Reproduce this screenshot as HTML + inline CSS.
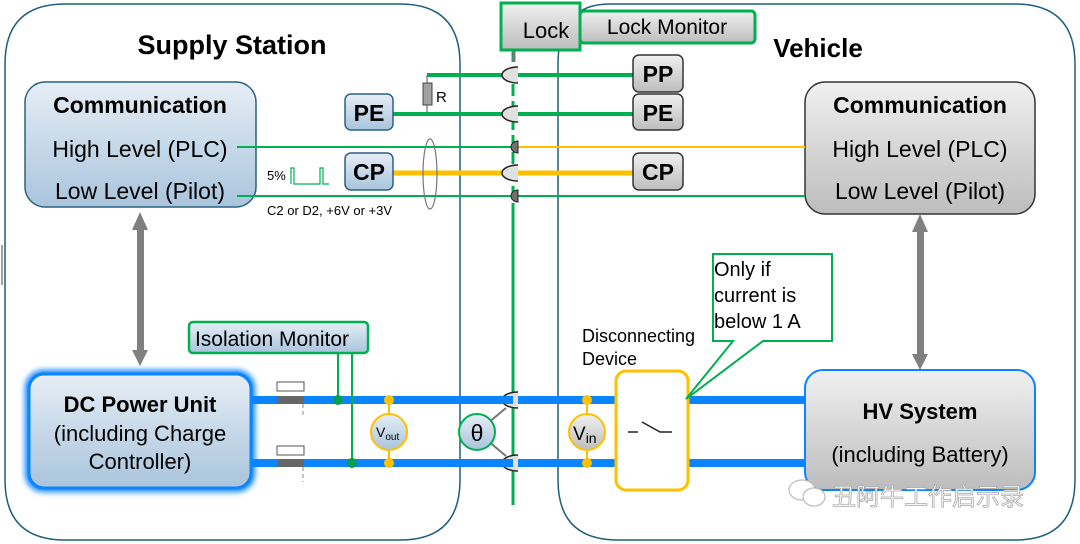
<!DOCTYPE html>
<html><head><meta charset="utf-8"><style>
html,body{margin:0;padding:0;background:#fff;width:1080px;height:544px;overflow:hidden}
svg{display:block}
text{font-family:"Liberation Sans","Noto Sans CJK SC",sans-serif}
</style></head><body>
<svg width="1080" height="544" viewBox="0 0 1080 544" xmlns="http://www.w3.org/2000/svg">
<defs>
<linearGradient id="gb" x1="0" y1="0" x2="0" y2="1"><stop offset="0" stop-color="#e6eef6"/><stop offset="1" stop-color="#a9c4dc"/></linearGradient>
<linearGradient id="gg" x1="0" y1="0" x2="0" y2="1"><stop offset="0" stop-color="#f0f0f0"/><stop offset="1" stop-color="#bdbdbd"/></linearGradient>
<filter id="glow" x="-20%" y="-20%" width="140%" height="140%"><feGaussianBlur stdDeviation="3"/></filter>
</defs>
<path d="M65 4 H400 Q460 4 460 64 V480 Q460 540 400 540 H65 Q5 540 5 480 V64 Q5 4 65 4Z" fill="none" stroke="#1f5f7f" stroke-width="1.5"/>
<path d="M610 4 H1015 Q1075 4 1075 64 V480 Q1075 540 1015 540 H618 Q558 540 558 480 V64 Q558 4 610 4Z" fill="none" stroke="#1f5f7f" stroke-width="1.5"/>
<line x1="2" y1="245" x2="2" y2="285" stroke="#444" stroke-width="1"/>
<text x="232" y="54" font-size="27" font-weight="bold" text-anchor="middle">Supply Station</text>
<text x="818" y="57" font-size="26" font-weight="bold" text-anchor="middle">Vehicle</text>

<line x1="513" y1="50" x2="513" y2="210" stroke="#00b050" stroke-width="3" stroke-dasharray="12,5"/>
<line x1="513" y1="210" x2="513" y2="505" stroke="#00b050" stroke-width="3"/>
<line x1="514" y1="50" x2="514" y2="62" stroke="#777" stroke-width="3"/>

<rect x="501" y="3" width="79" height="47" fill="url(#gg)" stroke="#00b050" stroke-width="3"/>
<text x="546" y="38" font-size="22" text-anchor="middle">Lock</text>
<rect x="580" y="11" width="175" height="32" rx="4" fill="url(#gg)" stroke="#00b050" stroke-width="3"/>
<text x="667" y="34" font-size="21" text-anchor="middle">Lock Monitor</text>

<rect x="25" y="82" width="231" height="125" rx="20" fill="url(#gb)" stroke="#2a6282" stroke-width="1.5"/>
<text x="140" y="113" font-size="23" font-weight="bold" text-anchor="middle">Communication</text>
<text x="140" y="157" font-size="23" text-anchor="middle">High Level (PLC)</text>
<text x="140" y="199" font-size="23" text-anchor="middle">Low Level (Pilot)</text>
<rect x="805" y="82" width="230" height="132" rx="20" fill="url(#gg)" stroke="#333" stroke-width="1.5"/>
<text x="920" y="113" font-size="23" font-weight="bold" text-anchor="middle">Communication</text>
<text x="920" y="157" font-size="23" text-anchor="middle">High Level (PLC)</text>
<text x="920" y="199" font-size="23" text-anchor="middle">Low Level (Pilot)</text>

<line x1="427" y1="75" x2="633" y2="75" stroke="#00b050" stroke-width="4"/>
<line x1="393" y1="114" x2="633" y2="114" stroke="#00b050" stroke-width="4"/>
<line x1="237" y1="147" x2="513" y2="147" stroke="#00b050" stroke-width="2"/>
<line x1="517" y1="147" x2="805" y2="147" stroke="#ffc000" stroke-width="2"/>
<line x1="393" y1="173" x2="633" y2="173" stroke="#ffc000" stroke-width="5"/>
<line x1="237" y1="196" x2="805" y2="196" stroke="#00b050" stroke-width="2"/>
<line x1="427" y1="75" x2="427" y2="112" stroke="#555" stroke-width="1"/>
<rect x="423" y="83" width="9" height="22" fill="#a0a0a0" stroke="#444"/>
<text x="436" y="102" font-size="15">R</text>
<ellipse cx="430" cy="174" rx="7" ry="35" fill="none" stroke="#777" stroke-width="1.2"/>
<text x="267" y="180" font-size="13">5%</text>
<path d="M291 184 V168 H294 V184 H320 V168 H323 V184 H329" fill="none" stroke="#00b050" stroke-width="1.2"/>
<text x="267" y="215" font-size="13">C2 or D2, +6V or +3V</text>

<g fill="#e0e0e0" stroke="#222" stroke-width="1.5">
<path d="M518 67 A16 8 0 0 0 518 83"/>
<path d="M518 106 A16 8 0 0 0 518 122"/>
<path d="M518 165 A16 8 0 0 0 518 181"/>
<path d="M518 392 A16 8 0 0 0 518 408"/>
<path d="M518 455 A16 8 0 0 0 518 471"/>
</g>
<g fill="#707070" stroke="#222" stroke-width="1">
<path d="M518 141 A7 6 0 0 0 518 153Z"/>
<path d="M518 190 A7 6 0 0 0 518 202Z"/>
</g>

<g font-size="23" font-weight="bold" text-anchor="middle">
<rect x="345" y="94" width="48" height="36" rx="6" fill="url(#gb)" stroke="#2a6282" stroke-width="1.5"/><text x="369" y="121">PE</text>
<rect x="345" y="153" width="48" height="37" rx="6" fill="url(#gb)" stroke="#2a6282" stroke-width="1.5"/><text x="369" y="180">CP</text>
<rect x="633" y="55" width="50" height="37" rx="6" fill="url(#gg)" stroke="#333" stroke-width="1.5"/><text x="658" y="82">PP</text>
<rect x="633" y="94" width="50" height="36" rx="6" fill="url(#gg)" stroke="#333" stroke-width="1.5"/><text x="658" y="121">PE</text>
<rect x="633" y="153" width="50" height="37" rx="6" fill="url(#gg)" stroke="#333" stroke-width="1.5"/><text x="658" y="180">CP</text>
</g>

<g fill="#808080">
<rect x="137" y="226" width="7" height="128"/>
<path d="M140 212 L148 230 L132 230Z"/><path d="M140 366 L148 350 L132 350Z"/>
<rect x="917" y="228" width="7" height="128"/>
<path d="M920 214 L928 232 L912 232Z"/><path d="M920 370 L928 354 L912 354Z"/>
</g>

<g stroke="#0a84ff" stroke-width="8">
<line x1="250" y1="400" x2="513" y2="400"/><line x1="518" y1="400" x2="810" y2="400"/>
<line x1="250" y1="463" x2="513" y2="463"/><line x1="518" y1="463" x2="810" y2="463"/>
</g>
<g>
<rect x="277" y="382" width="27" height="9" fill="#fff" stroke="#555"/>
<rect x="277" y="396" width="27" height="8" fill="#666"/>
<rect x="277" y="446" width="27" height="9" fill="#fff" stroke="#555"/>
<rect x="277" y="459" width="27" height="8" fill="#666"/>
<line x1="303" y1="404" x2="303" y2="418" stroke="#888" stroke-dasharray="4,3"/>
<line x1="303" y1="467" x2="303" y2="482" stroke="#888" stroke-dasharray="4,3"/>
</g>

<rect x="25" y="370" width="230" height="122" rx="18" fill="#0a84ff" filter="url(#glow)"/>
<rect x="29" y="374" width="222" height="114" rx="15" fill="url(#gb)" stroke="#0a84ff" stroke-width="3"/>
<text x="140" y="412" font-size="22" font-weight="bold" text-anchor="middle">DC Power Unit</text>
<text x="140" y="441" font-size="22" text-anchor="middle">(including Charge</text>
<text x="140" y="469" font-size="22" text-anchor="middle">Controller)</text>

<line x1="338" y1="353" x2="338" y2="400" stroke="#00b050" stroke-width="2"/>
<line x1="352" y1="353" x2="352" y2="463" stroke="#00b050" stroke-width="2"/>
<circle cx="338" cy="400" r="5" fill="#00a050"/><circle cx="352" cy="463" r="5" fill="#00a050"/>
<rect x="189" y="322" width="179" height="31" rx="4" fill="url(#gb)" stroke="#00b050" stroke-width="2.5"/>
<text x="272" y="346" font-size="21" text-anchor="middle">Isolation Monitor</text>

<line x1="389" y1="400" x2="389" y2="463" stroke="#ffc000" stroke-width="2"/>
<circle cx="389" cy="400" r="5" fill="#ffc000"/><circle cx="389" cy="463" r="5" fill="#ffc000"/>
<circle cx="389" cy="432" r="18" fill="url(#gb)" stroke="#ffc000" stroke-width="2"/>
<text x="376" y="437" font-size="14">V<tspan font-size="10" dy="3">out</tspan></text>
<line x1="488" y1="423" x2="506" y2="408" stroke="#777" stroke-width="2"/>
<line x1="488" y1="441" x2="506" y2="456" stroke="#777" stroke-width="2"/>
<circle cx="477" cy="432" r="18" fill="url(#gb)" stroke="#00b050" stroke-width="2"/>
<text x="477" y="441" font-size="23" text-anchor="middle">θ</text>
<line x1="587" y1="400" x2="587" y2="463" stroke="#ffc000" stroke-width="2"/>
<circle cx="587" cy="400" r="5" fill="#ffc000"/><circle cx="587" cy="463" r="5" fill="#ffc000"/>
<circle cx="587" cy="432" r="18" fill="url(#gg)" stroke="#ffc000" stroke-width="2"/>
<text x="573" y="440" font-size="19">V<tspan font-size="14" dy="3">in</tspan></text>

<text x="582" y="342" font-size="18">Disconnecting</text>
<text x="582" y="365" font-size="18">Device</text>
<rect x="616" y="371" width="72" height="119" rx="10" fill="#fff" stroke="#ffc000" stroke-width="3"/>
<path d="M628 432 H638 M642 422 L660 432 H672" fill="none" stroke="#222" stroke-width="1.5"/>
<path d="M713 254 H832 V341 H763 L686 399 L733 341 H713Z" fill="#fff" stroke="#00b050" stroke-width="2"/>
<text x="714" y="276" font-size="20">Only if</text>
<text x="714" y="302" font-size="20">current is</text>
<text x="714" y="328" font-size="20">below 1 A</text>

<rect x="805" y="370" width="230" height="120" rx="18" fill="url(#gg)" stroke="#0a84ff" stroke-width="2"/>
<text x="920" y="419" font-size="22" font-weight="bold" text-anchor="middle">HV System</text>
<text x="920" y="462" font-size="22" text-anchor="middle">(including Battery)</text>

<g fill="#fff" stroke="#bbb" stroke-width="1.2">
<ellipse cx="802" cy="490" rx="13" ry="10"/><ellipse cx="814" cy="497" rx="11" ry="9"/>
</g>
<text x="832" y="505" font-size="24" fill="#fff" stroke="#aaa" stroke-width="0.8">丑阿牛工作启示录</text>
</svg>
</body></html>
